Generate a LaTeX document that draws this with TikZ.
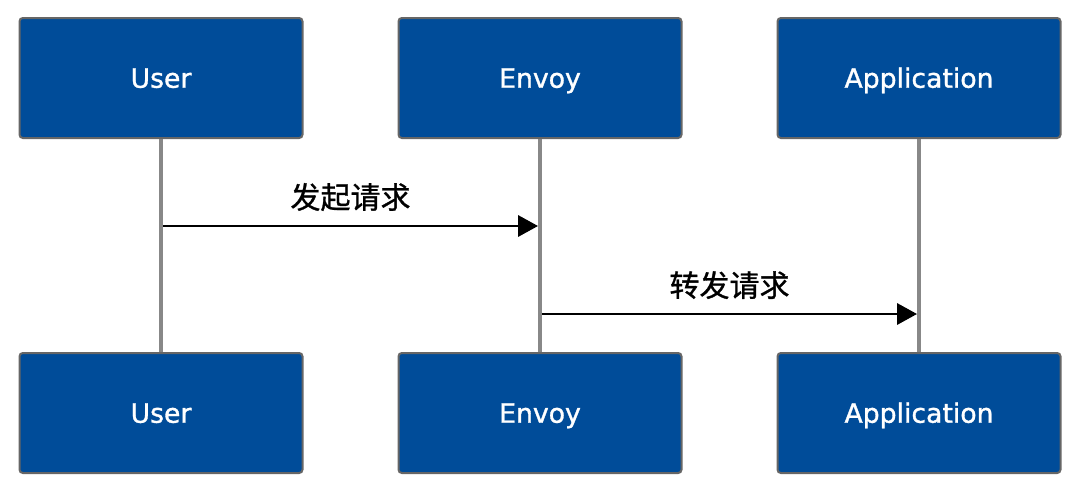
\documentclass[tikz,border=0pt]{standalone}
\usepackage{fontspec}
\setmainfont{DejaVu Sans}[FakeBold=1.2,BoldFont={DejaVu Sans}]
\newfontfamily\actorfont{DejaVu Sans}[FakeBold=1.2]
\newfontfamily\cjk{Noto Sans CJK SC}[FakeBold=1]
\usetikzlibrary{arrows.meta}
\begin{document}
\begin{tikzpicture}[x=0.75pt,y=-0.75pt,
  actor/.style={draw=black!60,line width=1.5pt,fill=boxblue,rounded corners=2.5pt,
    minimum width=283*0.75pt,minimum height=120*0.75pt,inner sep=0pt,
    text=white,font=\actorfont\fontsize{20}{24}\selectfont,
    text height=14.6pt,text depth=0pt},
  life/.style={draw=lifegray,line width=3pt},
  msg/.style={draw=black,line width=1.8pt,-{Triangle[length=15pt,width=16pt]}},
  lbl/.style={font=\cjk\fontsize{22.5}{26}\selectfont}]
\definecolor{boxblue}{HTML}{004C99}
\definecolor{lifegray}{HTML}{888888}
\useasboundingbox (0,0) rectangle (1080,489);
\node[actor] (u1) at (161,78) {User};
\node[actor] (e1) at (540,78) {Envoy};
\node[actor] (a1) at (919,78) {Application};
\node[actor] (u2) at (161,413) {User};
\node[actor] (e2) at (540,413) {Envoy};
\node[actor] (a2) at (919,413) {Application};
\draw[life] (u1.south) -- (u2.north);
\draw[life] (e1.south) -- (e2.north);
\draw[life] (a1.south) -- (a2.north);
\coordinate (m1s) at (163,226);
\coordinate (m1e) at (538,226);
\coordinate (m2s) at (542,314);
\coordinate (m2e) at (917,314);
\draw[msg] (m1s) -- (m1e) node[lbl,midway,above=7pt] (l1) {发起请求};
\draw[msg] (m2s) -- (m2e) node[lbl,midway,above=7pt] (l2) {转发请求};
\end{tikzpicture}
\end{document}
